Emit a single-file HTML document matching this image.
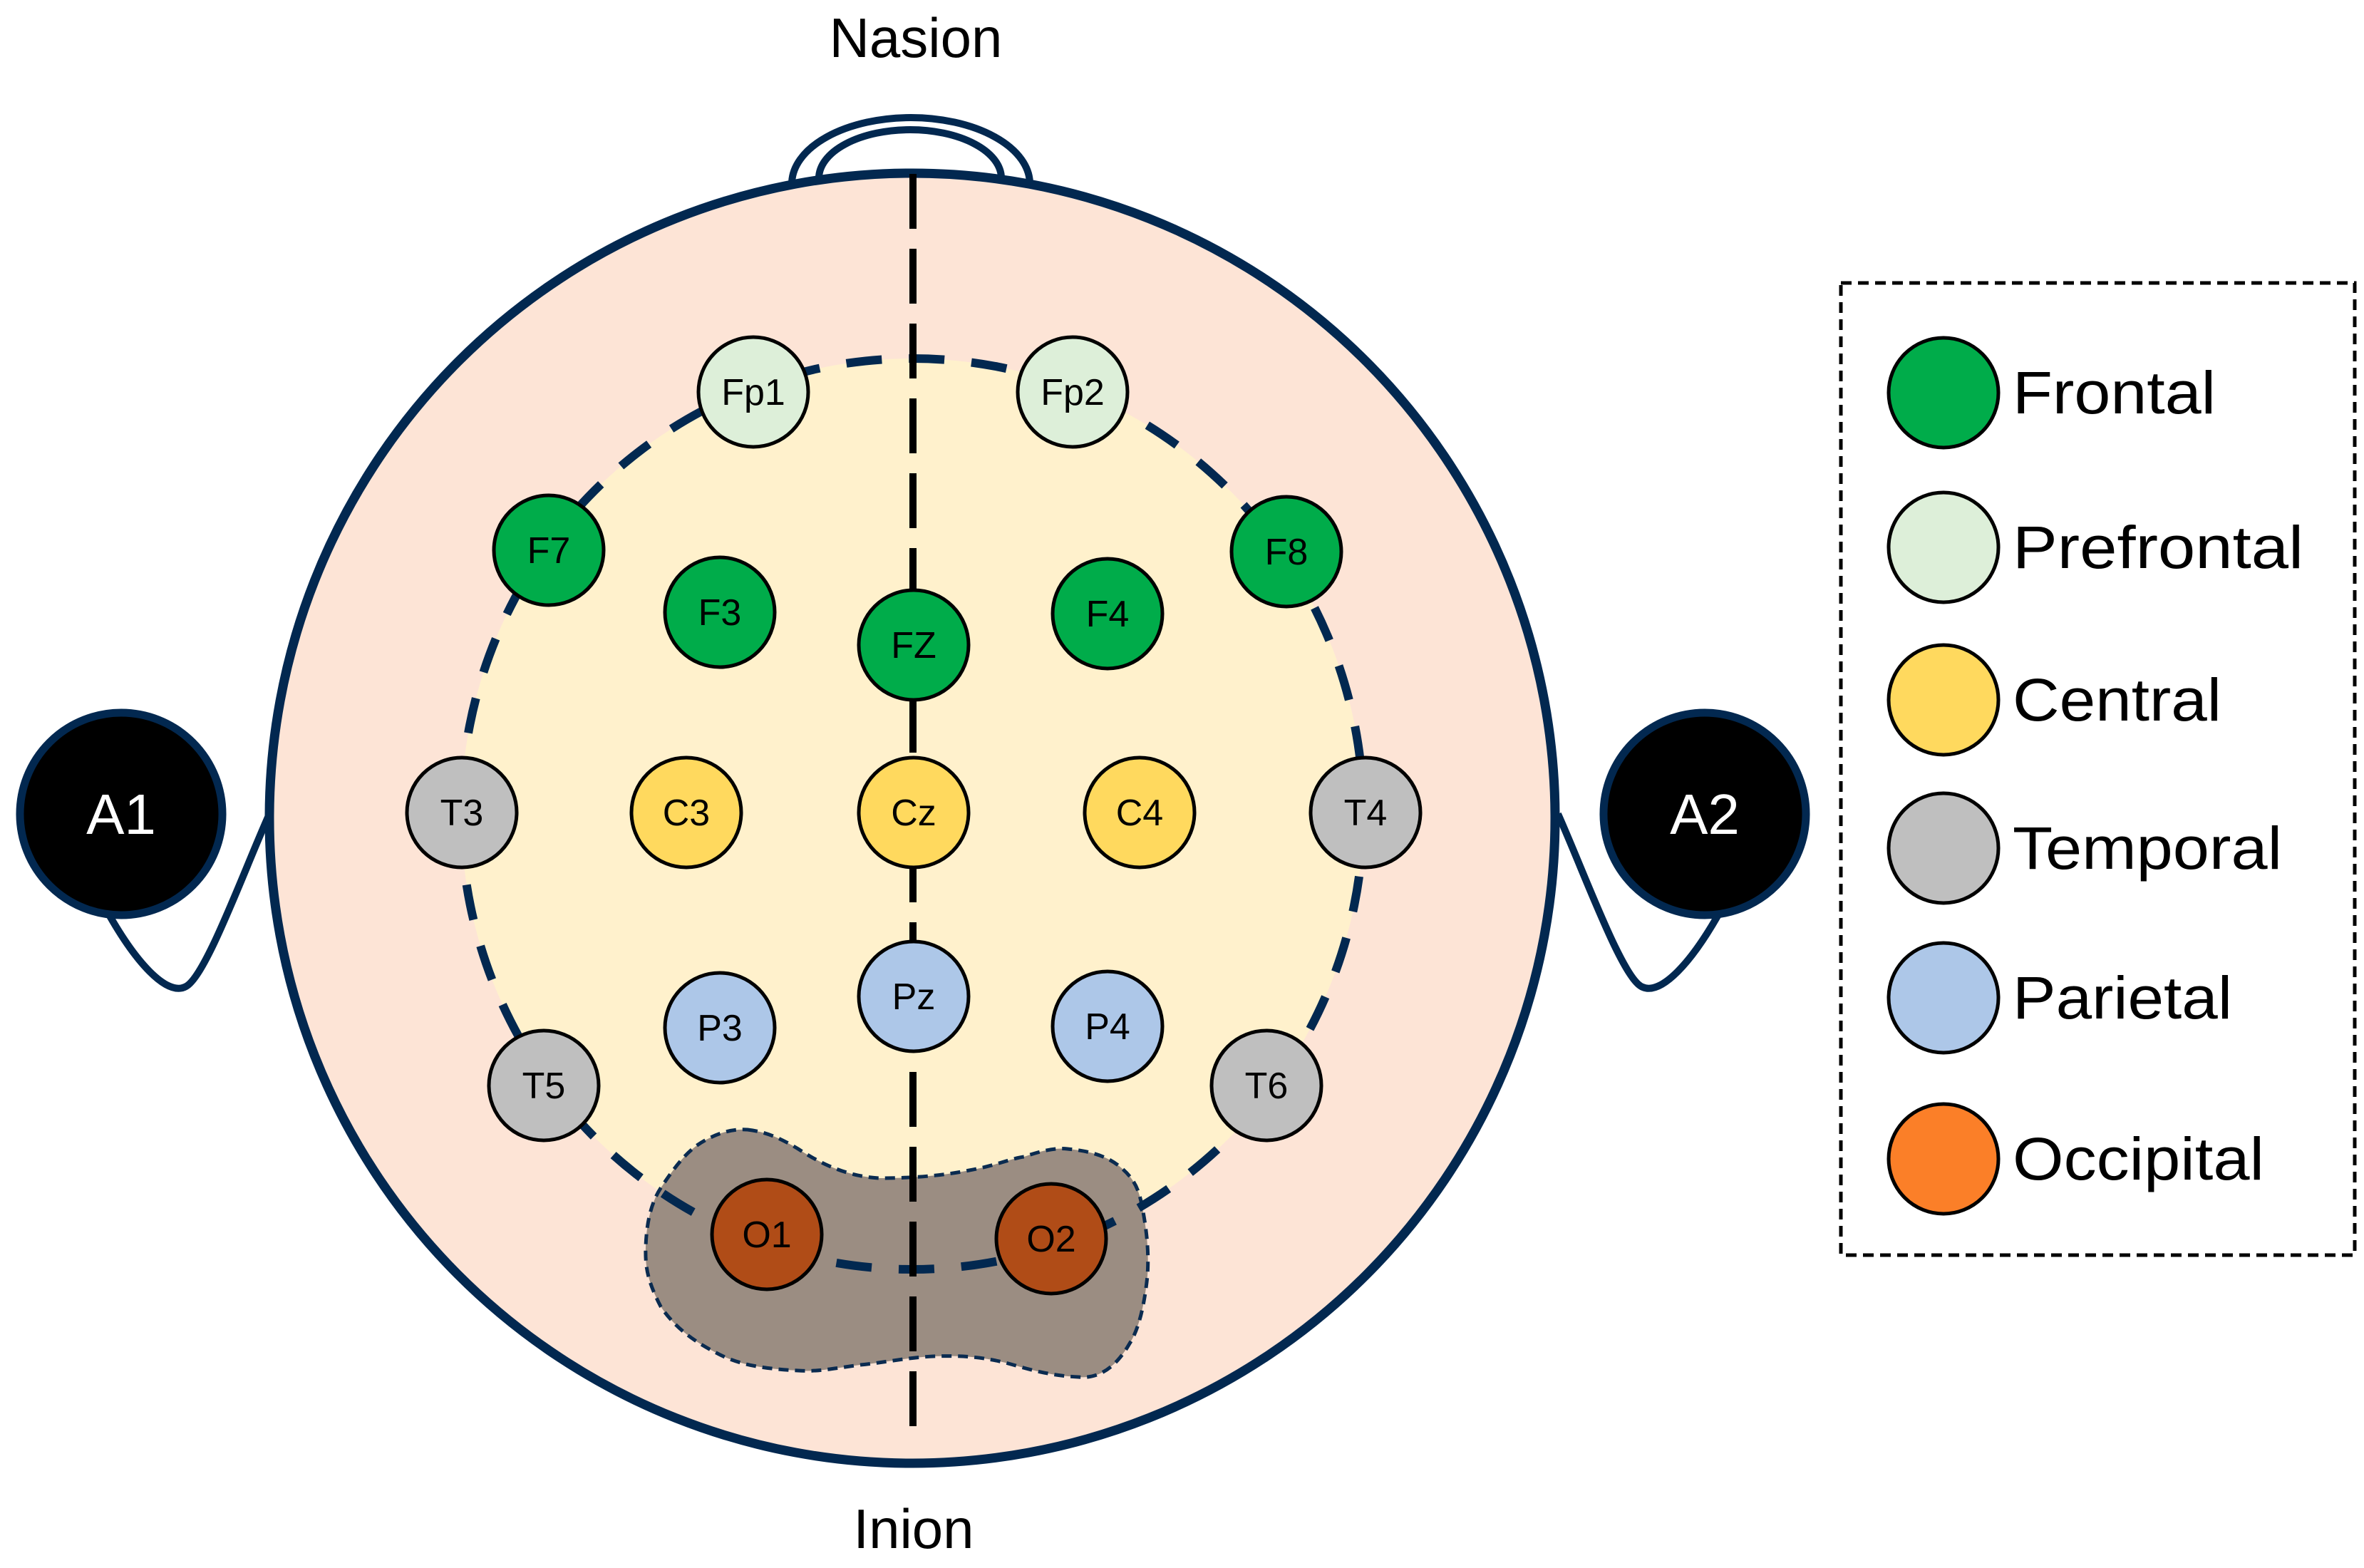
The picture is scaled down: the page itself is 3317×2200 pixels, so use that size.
<!DOCTYPE html>
<html><head><meta charset="utf-8"><style>
html,body{margin:0;padding:0;background:#fff;}
svg{display:block;}
text{font-family:"Liberation Sans",sans-serif;}
</style></head><body>
<svg width="3317" height="2200" viewBox="0 0 3317 2200" xmlns="http://www.w3.org/2000/svg">
<!-- ears -->
<path d="M145 1269 C191 1354 234 1396 259 1385 C287 1375 340 1227 378 1142" fill="none" stroke="#022850" stroke-width="10"/>
<path d="M2419 1269 C2373 1354 2330 1396 2305 1385 C2277 1375 2224 1227 2186 1142" fill="none" stroke="#022850" stroke-width="10"/>
<circle cx="170" cy="1142" r="142" fill="#000" stroke="#022850" stroke-width="11"/>
<circle cx="2392" cy="1142" r="142" fill="#000" stroke="#022850" stroke-width="11"/>
<text x="170" y="1170" font-size="80" fill="#fff" text-anchor="middle">A1</text>
<text x="2392" y="1170" font-size="80" fill="#fff" text-anchor="middle">A2</text>
<!-- nose -->
<path d="M1111 258 A167 93 0 0 1 1445 258" fill="#fff" stroke="#022850" stroke-width="10"/>
<path d="M1149 250 A128 68 0 0 1 1405 250" fill="#fff" stroke="#022850" stroke-width="10"/>
<!-- head -->
<ellipse cx="1280" cy="1148" rx="902" ry="905" fill="#fde4d6" stroke="#022850" stroke-width="13"/>
<ellipse cx="1280" cy="1142" rx="633" ry="639" fill="#fff1cc"/>
<!-- occipital blob -->
<path d="M1049 1585 C1075 1588 1095 1597 1120 1612 C1140 1625 1180 1650 1233 1653 C1290 1653 1330 1648 1360 1642 C1395 1636 1420 1625 1437 1623 C1460 1615 1480 1610 1498 1612 C1530 1615 1555 1622 1575 1640 C1592 1655 1598 1670 1602 1690 C1610 1730 1612 1760 1610 1790 C1606 1830 1598 1865 1585 1885 C1565 1920 1540 1935 1513 1932 C1470 1930 1440 1920 1411 1912 C1370 1902 1340 1902 1309 1903 C1270 1905 1240 1912 1207 1915 C1170 1920 1145 1925 1120 1923 C1060 1920 1030 1912 1003 1897 C970 1880 945 1860 927 1833 C910 1800 905 1780 906 1750 C907 1720 912 1690 927 1667 C945 1640 960 1620 978 1607 C1000 1592 1025 1583 1049 1585 Z" fill="#9b8d82" stroke="#0a2b50" stroke-width="5" stroke-dasharray="14 9"/>
<!-- dashed inner ellipse -->
<ellipse cx="1280" cy="1142" rx="633" ry="639" fill="none" stroke="#022850" stroke-width="12" stroke-dasharray="50 38"/>
<!-- midline -->
<line x1="1281" y1="244" x2="1281" y2="2012" stroke="#000" stroke-width="10" stroke-dasharray="77 28"/>
<!-- electrodes -->
<g stroke="#000" stroke-width="5">
<circle cx="1057" cy="550" r="77" fill="#ddefd9"/>
<circle cx="1505" cy="550" r="77" fill="#ddefd9"/>
<circle cx="770" cy="772" r="77" fill="#00ac4a"/>
<circle cx="1010" cy="859" r="77" fill="#00ac4a"/>
<circle cx="1282" cy="905" r="77" fill="#00ac4a"/>
<circle cx="1554" cy="861" r="77" fill="#00ac4a"/>
<circle cx="1805" cy="774" r="77" fill="#00ac4a"/>
<circle cx="648" cy="1140" r="77" fill="#bfbfbf"/>
<circle cx="963" cy="1140" r="77" fill="#ffd95e"/>
<circle cx="1282" cy="1140" r="77" fill="#ffd95e"/>
<circle cx="1599" cy="1140" r="77" fill="#ffd95e"/>
<circle cx="1916" cy="1140" r="77" fill="#bfbfbf"/>
<circle cx="1010" cy="1442" r="77" fill="#adc7e8"/>
<circle cx="1282" cy="1398" r="77" fill="#adc7e8"/>
<circle cx="1554" cy="1440" r="77" fill="#adc7e8"/>
<circle cx="763" cy="1523" r="77" fill="#bfbfbf"/>
<circle cx="1777" cy="1523" r="77" fill="#bfbfbf"/>
<circle cx="1076" cy="1732" r="77" fill="#b04c17"/>
<circle cx="1475" cy="1738" r="77" fill="#b04c17"/>
</g>
<g font-size="52" fill="#000" text-anchor="middle">
<text x="1057" y="568">Fp1</text>
<text x="1505" y="568">Fp2</text>
<text x="770" y="790">F7</text>
<text x="1010" y="877">F3</text>
<text x="1282" y="923">FZ</text>
<text x="1554" y="879">F4</text>
<text x="1805" y="792">F8</text>
<text x="648" y="1158">T3</text>
<text x="963" y="1158">C3</text>
<text x="1282" y="1158">Cz</text>
<text x="1599" y="1158">C4</text>
<text x="1916" y="1158">T4</text>
<text x="1010" y="1460">P3</text>
<text x="1282" y="1416">Pz</text>
<text x="1554" y="1458">P4</text>
<text x="763" y="1541">T5</text>
<text x="1777" y="1541">T6</text>
<text x="1076" y="1750">O1</text>
<text x="1475" y="1756">O2</text>
</g>
<text x="1285" y="80" font-size="78" text-anchor="middle">Nasion</text>
<text x="1282" y="2172" font-size="78" text-anchor="middle">Inion</text>
<!-- legend -->
<rect x="2583" y="397" width="721" height="1364" fill="#fff" stroke="#000" stroke-width="5" stroke-dasharray="15 9"/>
<g stroke="#000" stroke-width="5">
<circle cx="2727" cy="551" r="77" fill="#00ac4a"/>
<circle cx="2727" cy="768" r="77" fill="#ddefd9"/>
<circle cx="2727" cy="982" r="77" fill="#ffd95e"/>
<circle cx="2727" cy="1190" r="77" fill="#bfbfbf"/>
<circle cx="2727" cy="1400" r="77" fill="#adc7e8"/>
<circle cx="2727" cy="1626" r="77" fill="#fb7f28"/>
</g>
<g font-size="84" fill="#000">
<text x="2824" y="580" textLength="285" lengthAdjust="spacingAndGlyphs">Frontal</text>
<text x="2824" y="797" textLength="408" lengthAdjust="spacingAndGlyphs">Prefrontal</text>
<text x="2824" y="1011" textLength="293" lengthAdjust="spacingAndGlyphs">Central</text>
<text x="2824" y="1219" textLength="378" lengthAdjust="spacingAndGlyphs">Temporal</text>
<text x="2824" y="1429" textLength="308" lengthAdjust="spacingAndGlyphs">Parietal</text>
<text x="2824" y="1655" textLength="353" lengthAdjust="spacingAndGlyphs">Occipital</text>
</g>
</svg>
</body></html>
